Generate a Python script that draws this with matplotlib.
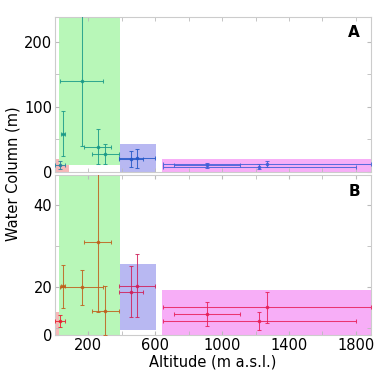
import matplotlib
matplotlib.use("Agg")
import matplotlib.pyplot as plt
from matplotlib.patches import Rectangle

# altitude (m a.s.l.) of each site and its half range
alt = [32, 48, 160, 256, 300, 455, 491, 910, 1222, 1268]
alt_err = [30, 13, 128, 80, 80, 72, 110, 197, 577, 623]

# panel A water column (m)
wc_a = [10.7, 59, 140, 39, 27.6, 20, 21, 10, 8, 12]
wc_a_err = [6.5, 35, 100, 27, 15, 13, 14.5, 4, 4, 5]
col_a = ['#2a7f9e', '#1a9a88', '#1a9a88', '#1a9a88', '#1a9a88',
         '#2458c8', '#2458c8', '#4060d8', '#4060d8', '#4060d8']

# panel B water column (m)
wc_b = [11.7, 20.1, 19.9, 30.9, 14.1, 18.8, 20.3, 13.3, 11.7, 15.0]
wc_b_err = [1.5, 5.3, 4.3, 17, 6, 6.3, 7.8, 2.9, 2.2, 3.8]
col_b = ['#e82030', '#c0601c', '#c0601c', '#c0601c', '#c0601c',
         '#d0205a', '#d0205a', '#e8205a', '#e8205a', '#e8205a']

# shaded zones: (x0, x1, y0, y1, colour)
boxes_a = [(0, 82, 0, 20, '#f7b8b8'), (26, 390, 10.7, 260, '#b8f7b8'),
           (386, 602, 0, 42.5, '#b8b8f2'), (640, 1950, 0, 20, '#f7aef7')]
boxes_b = [(0, 82, 7, 13.9, '#f7b8b8'), (26, 390, 7, 50, '#b8f7b8'),
           (386, 602, 9.4, 25.6, '#b8b8f2'), (643, 1950, 7, 19.3, '#f7aef7')]

plt.rcParams['font.size'] = 10.5
fig = plt.figure(figsize=(3.83, 3.78), dpi=100)
ax1 = fig.add_axes([0.1436, 0.545, 0.825, 0.410])
ax2 = fig.add_axes([0.1436, 0.1138, 0.825, 0.423])


def draw(ax, wc, wc_err, cols, boxes):
    for x0, x1, y0, y1, c in boxes:
        ax.add_patch(Rectangle((x0, y0), x1 - x0, y1 - y0, color=c, lw=0, zorder=1))
    for i in range(len(alt)):
        ax.errorbar(alt[i], wc[i], xerr=alt_err[i], yerr=wc_err[i], fmt='o',
                    ms=1.6, color=cols[i], elinewidth=0.75, capsize=1.2,
                    capthick=0.75, alpha=0.85, zorder=3)
    ax.set_xlim(0, 1890)
    ax.set_xticks(range(0, 1900, 200), minor=True)
    for s in ax.spines.values():
        s.set_color('#cccccc')
    ax.tick_params(which='both', direction='in', top=True, right=True,
                   color='#bbbbbb', length=3, pad=2)


draw(ax1, wc_a, wc_a_err, col_a, boxes_a)
ax1.set_ylim(0, 238)
ax1.set_yticks([0, 100, 200])
ax1.set_yticks([50, 150], minor=True)
ax1.set_xticks([])
ax1.text(0.965, 0.9, 'A', transform=ax1.transAxes, ha='right', va='center',
         fontweight='bold', fontsize=11)

draw(ax2, wc_b, wc_b_err, col_b, boxes_b)
ax2.set_ylim(8.2, 47.4)
ax2.set_yticks([8.2, 20, 40])
ax2.set_yticklabels(['0', '20', '40'])
ax2.set_yticks([10, 30], minor=True)
ax2.set_xticks([200, 600, 1000, 1400, 1800])
ax2.set_xlabel('Altitude (m a.s.l.)', labelpad=1)
ax2.text(0.965, 0.9, 'B', transform=ax2.transAxes, ha='right', va='center',
         fontweight='bold', fontsize=11)

fig.text(0.035, 0.54, 'Water Column (m)', rotation=90, ha='center', va='center')

fig.savefig('out.png', dpi=100)
